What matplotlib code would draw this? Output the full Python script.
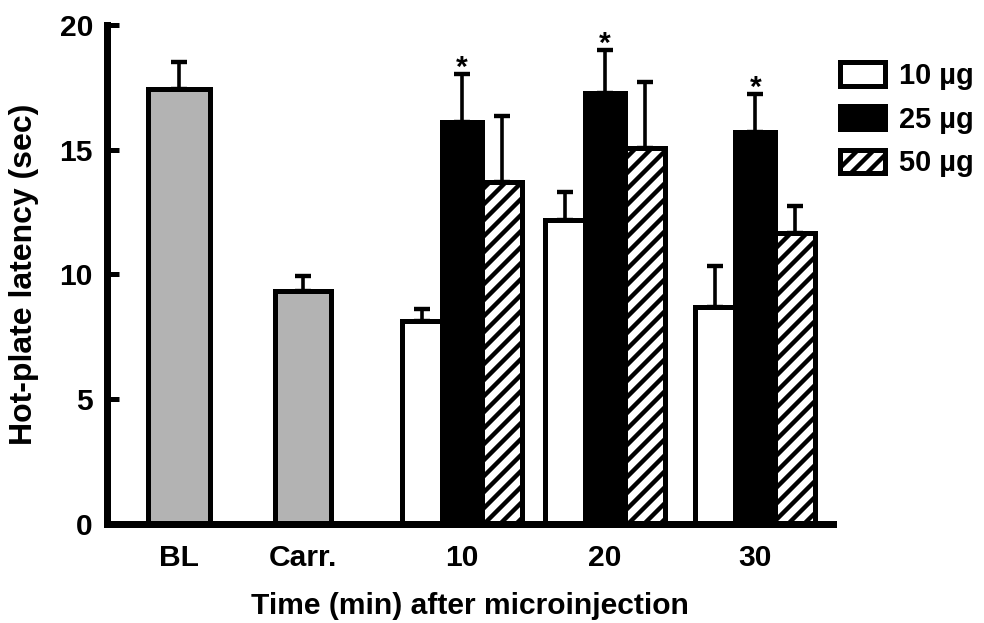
import numpy as np
import matplotlib
matplotlib.use("Agg")
import matplotlib.pyplot as plt
from matplotlib.patches import Patch

plt.rcParams["font.family"] = ["Liberation Sans", "DejaVu Sans"]
plt.rcParams["font.weight"] = "bold"
plt.rcParams["hatch.linewidth"] = 2.2

# baseline and carrageenan controls
ctrl_labels = ["BL", "Carr."]
ctrl_mean = [17.45, 9.35]
ctrl_sem = [1.05, 0.6]
ctrl_pos = [1.79, 4.9]
ctrl_width = [1.55, 1.38]

# latencies at each time point after microinjection, per dose
times = ["10", "20", "30"]
time_pos = [8.875, 12.45, 16.21]
doses = ["10 µg", "25 µg", "50 µg"]
mean_10 = [8.12, 12.2, 8.68]
sem_10 = [0.48, 1.12, 1.68]
mean_25 = [16.12, 17.28, 15.72]
sem_25 = [1.92, 1.72, 1.52]
mean_50 = [13.72, 15.08, 11.68]
sem_50 = [2.64, 2.64, 1.08]
signif_25 = [True, True, True]

dose_style = [dict(facecolor="white", hatch=None),
              dict(facecolor="black", hatch=None),
              dict(facecolor="white", hatch="///")]

EDGE = 2.5
W = 1.0

fig = plt.figure(figsize=(984 / 144, 623 / 144), dpi=144)
ax = fig.add_axes([0.1087, 0.1589, 0.7379, 0.801])


def err(ax, x, m, s):
    ax.errorbar(x, m, yerr=[np.zeros(len(s)), s], fmt="none", ecolor="black",
                elinewidth=1.8, capsize=4, capthick=2.2, zorder=1)


# control bars
ax.bar(ctrl_pos, ctrl_mean, width=ctrl_width, color="#b3b3b3",
       edgecolor="black", linewidth=EDGE, zorder=2)
err(ax, ctrl_pos, ctrl_mean, ctrl_sem)

# grouped dose bars
tp = np.array(time_pos)
for i, (m, s) in enumerate([(mean_10, sem_10), (mean_25, sem_25), (mean_50, sem_50)]):
    x = tp + (i - 1) * W
    ax.bar(x, m, width=W, color=dose_style[i]["facecolor"],
           hatch=dose_style[i]["hatch"], edgecolor="black", linewidth=EDGE,
           zorder=2)
    err(ax, x, m, s)

for x, m, s, sig in zip(tp, mean_25, sem_25, signif_25):
    if sig:
        ax.annotate("*", (x, m + s), xytext=(0, -4), textcoords="offset points",
                    ha="center", va="bottom", fontsize=15, fontweight="bold")

ax.set_xlim(0, 18.15)
ax.set_ylim(0, 20)
ax.set_yticks([0, 5, 10, 15, 20])
ax.set_xticks(ctrl_pos + time_pos)
ax.set_xticklabels(ctrl_labels + times)

for side in ["top", "right"]:
    ax.spines[side].set_visible(False)
for side in ["left", "bottom"]:
    ax.spines[side].set_linewidth(3.5)
    ax.spines[side].set_zorder(3)

ax.tick_params(axis="y", direction="in", length=6, width=2.5, pad=7, labelsize=15)
ax.tick_params(axis="x", length=0, pad=10, labelsize=15)

ax.set_ylabel("Hot-plate latency (sec)", fontsize=16, fontweight="bold", labelpad=10)
ax.set_xlabel("Time (min) after microinjection", fontsize=15, fontweight="bold", labelpad=10)

handles = [Patch(facecolor=st["facecolor"], hatch=st["hatch"], edgecolor="black",
                 linewidth=EDGE) for st in dose_style]
fig.legend(handles, doses, loc="upper left", bbox_to_anchor=(840 / 984, 1 - 62 / 623),
           frameon=False, fontsize=14.5, handlelength=1.55, handleheight=0.86,
           handletextpad=0.5, labelspacing=0.54, borderpad=0, borderaxespad=0)

fig.savefig("out.png", dpi=144)
